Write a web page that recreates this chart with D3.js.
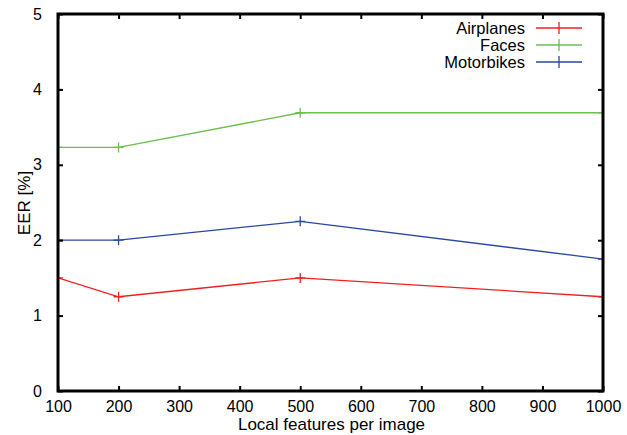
<!DOCTYPE html>
<html>
<head>
<meta charset="utf-8" />
<title>EER vs local features</title>
<script src="https://d3js.org/d3.v7.min.js"></script>
<style>
body { margin: 0; background: #fff; font-family: "Liberation Sans", Arial, sans-serif; }
.tick text { font-size: 16px; fill: #000; }
</style>
</head>
<body>
<div id="graphic"></div>
<script>
// data
const features = [100, 200, 500, 1000];
const seriesNames = ["Airplanes", "Faces", "Motorbikes"];
const airplanes = [1.5, 1.25, 1.5, 1.25];
const faces = [3.23, 3.23, 3.69, 3.69];
const motorbikes = [2.0, 2.0, 2.25, 1.75];
const xTicks = [100, 200, 300, 400, 500, 600, 700, 800, 900, 1000];
const yTicks = [0, 1, 2, 3, 4, 5];
const colors = ["#f02020", "#6cbf4c", "#2a48a0"];

const W = 627, H = 435;
const margin = { top: 14, right: 24, bottom: 44, left: 58 };
const width = W - margin.left - margin.right;
const height = H - margin.top - margin.bottom;

const svg = d3.select("#graphic").append("svg")
  .attr("width", W)
  .attr("height", H);

const g = svg.append("g")
  .attr("transform", "translate(" + margin.left + "," + margin.top + ")");

const x = d3.scaleLinear().domain([100, 1000]).range([0, width]);
const y = d3.scaleLinear().domain([0, 5]).range([height, 0]);

// clip lines to the plot box
g.append("clipPath").attr("id", "clip")
  .append("rect").attr("width", width).attr("height", height);

const series = [airplanes, faces, motorbikes].map((vals, i) => ({
  name: seriesNames[i],
  color: colors[i],
  points: features.map((f, j) => ({ f: f, v: vals[j] }))
}));

const body = g.append("g").attr("clip-path", "url(#clip)");
const line = d3.line().x(d => x(d.f)).y(d => y(d.v));

series.forEach(s => {
  body.append("path")
    .datum(s.points)
    .attr("fill", "none")
    .attr("stroke", s.color)
    .attr("stroke-width", 1.3)
    .attr("d", line);
  // gnuplot style '+' markers
  body.selectAll(null)
    .data(s.points)
    .enter().append("path")
    .attr("stroke", s.color)
    .attr("stroke-width", 1.3)
    .attr("d", d => {
      const px = x(d.f), py = y(d.v);
      return "M" + (px - 5) + "," + py + "H" + (px + 5) + "M" + px + "," + (py - 5) + "V" + (py + 5);
    });
});

// axes with inward ticks, mirrored on top and right
const tickLen = 5;
g.append("g")
  .attr("transform", "translate(0," + height + ")")
  .call(d3.axisBottom(x).tickValues(xTicks).tickSize(-tickLen).tickPadding(10).tickFormat(d3.format("d")));
g.append("g")
  .call(d3.axisLeft(y).tickValues(yTicks).tickSize(-tickLen).tickPadding(16).tickFormat(d3.format("d")));
g.append("g")
  .call(d3.axisTop(x).tickValues(xTicks).tickSize(-tickLen).tickFormat(""));
g.append("g")
  .attr("transform", "translate(" + width + ",0)")
  .call(d3.axisRight(y).tickValues(yTicks).tickSize(-tickLen).tickFormat(""));

g.selectAll(".domain").remove();
g.selectAll(".tick line").attr("stroke", "#000").attr("stroke-width", 2);
g.selectAll(".tick text").attr("font-family", "Liberation Sans, Arial, sans-serif");

// plot border
g.append("rect")
  .attr("width", width)
  .attr("height", height)
  .attr("fill", "none")
  .attr("stroke", "#000")
  .attr("stroke-width", 3);

// axis titles
svg.append("text")
  .attr("x", margin.left + width / 2 + 1)
  .attr("y", 430)
  .attr("text-anchor", "middle")
  .attr("font-size", 17)
  .text("Local features per image");

svg.append("text")
  .attr("transform", "translate(30,203) rotate(-90)")
  .attr("text-anchor", "middle")
  .attr("font-size", 17)
  .text("EER [%]");

// legend
const legend = svg.append("g");
series.forEach((s, i) => {
  const ly = 28 + i * 17;
  legend.append("text")
    .attr("x", 525)
    .attr("y", ly)
    .attr("dy", "0.35em")
    .attr("text-anchor", "end")
    .attr("font-size", 16.5)
    .text(s.name);
  legend.append("path")
    .attr("stroke", s.color)
    .attr("stroke-width", 1.3)
    .attr("d", "M536," + ly + "H582M559," + (ly - 6) + "V" + (ly + 6));
});
</script>
</body>
</html>
